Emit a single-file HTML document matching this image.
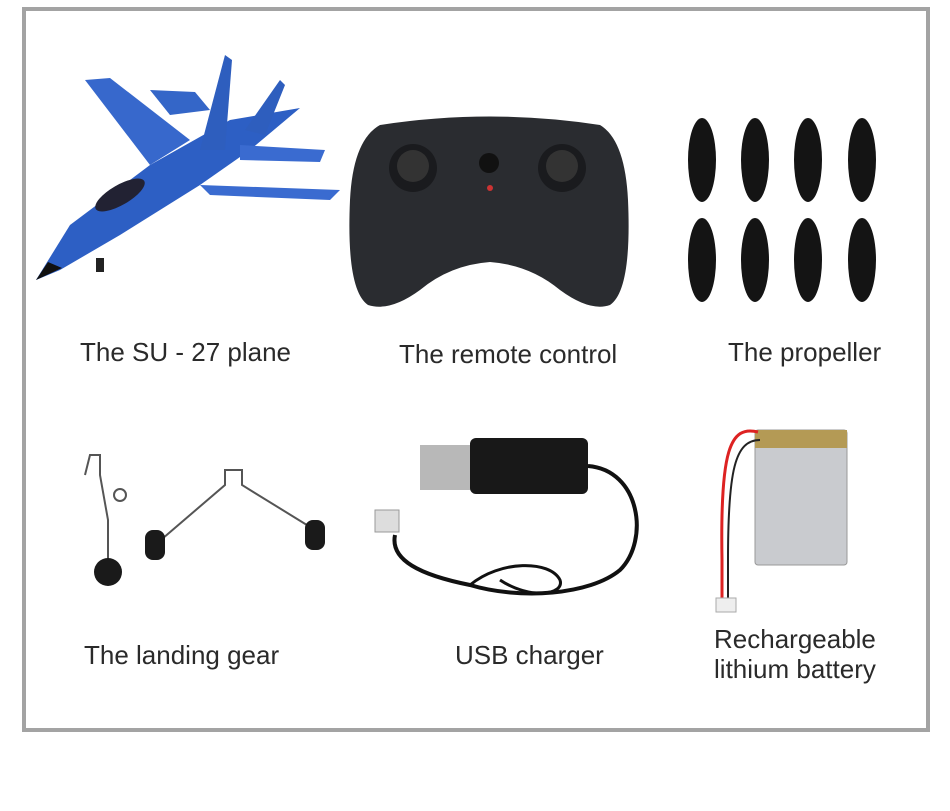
<!DOCTYPE html>
<html><head><meta charset="utf-8"><style>
html,body{margin:0;padding:0;background:#fff;}
body{width:950px;height:811px;position:relative;overflow:hidden;font-family:"Liberation Sans",Arial,sans-serif;}
.frame{position:absolute;left:22px;top:7px;width:900px;height:717px;border:4px solid #a3a3a3;}
.lbl{position:absolute;font-size:26px;color:#2a2a2a;white-space:nowrap;}
svg{position:absolute;left:0;top:0;}
</style></head><body>
<div class="frame"></div>
<svg width="950" height="811" viewBox="0 0 950 811">
 <g>
  <polygon points="36,280 70,225 150,165 230,120 300,108 250,150 200,185 120,235 60,270" fill="#2d5fc4"/>
  <polygon points="150,165 85,80 110,78 190,140" fill="#3768cc"/>
  <polygon points="200,150 225,55 232,60 225,150" fill="#2e5ebe"/>
  <polygon points="245,130 280,80 285,85 265,135" fill="#2e5ebe"/>
  <polygon points="200,185 340,190 330,200 210,195" fill="#3a6bd0"/>
  <polygon points="240,145 325,150 320,162 240,160" fill="#3a6bd0"/>
  <polygon points="150,90 195,92 210,110 170,115" fill="#3466c8"/>
  <polygon points="36,280 48,262 62,268" fill="#111"/>
  <ellipse cx="120" cy="195" rx="28" ry="10" fill="#223" transform="rotate(-30 120 195)"/>
  <rect x="96" y="258" width="8" height="14" fill="#222"/>
 </g>
 <path d="M380,125 Q490,108 600,125 Q625,140 628,200 Q632,290 610,305 Q590,312 560,290 Q530,265 490,262 Q450,265 420,290 Q390,312 368,305 Q346,290 350,200 Q353,140 380,125Z" fill="#2a2c30"/>
 <ellipse cx="413" cy="168" rx="24" ry="24" fill="#1a1b1e"/>
 <ellipse cx="562" cy="168" rx="24" ry="24" fill="#1a1b1e"/>
 <circle cx="413" cy="166" r="16" fill="#333"/>
 <circle cx="562" cy="166" r="16" fill="#333"/>
 <circle cx="489" cy="163" r="10" fill="#111"/>
 <circle cx="490" cy="188" r="3" fill="#c33"/>
 <g fill="#141414">
  <ellipse cx="702" cy="160" rx="14" ry="42"/><ellipse cx="702" cy="260" rx="14" ry="42"/>
  <ellipse cx="755" cy="160" rx="14" ry="42"/><ellipse cx="755" cy="260" rx="14" ry="42"/>
  <ellipse cx="808" cy="160" rx="14" ry="42"/><ellipse cx="808" cy="260" rx="14" ry="42"/>
  <ellipse cx="862" cy="160" rx="14" ry="42"/><ellipse cx="862" cy="260" rx="14" ry="42"/>
 </g>
 <g stroke="#555" stroke-width="2" fill="none">
  <path d="M85,475 L90,455 L100,455 L100,475 L108,520 L108,560"/>
  <circle cx="120" cy="495" r="6"/>
  <path d="M155,545 L225,485 L225,470 L242,470 L242,485 L315,530"/>
 </g>
 <circle cx="108" cy="572" r="14" fill="#1a1a1a"/>
 <rect x="145" y="530" width="20" height="30" rx="8" fill="#1a1a1a"/>
 <rect x="305" y="520" width="20" height="30" rx="8" fill="#1a1a1a"/>
 <rect x="420" y="445" width="55" height="45" fill="#b8b8b8"/>
 <rect x="470" y="438" width="118" height="56" rx="6" fill="#181818"/>
 <path d="M588,466 C640,470 650,540 620,570 C590,595 520,600 470,585 C420,575 390,560 395,535" stroke="#111" stroke-width="4" fill="none"/>
 <path d="M470,585 C500,560 550,560 560,580 C565,595 530,600 500,580" stroke="#111" stroke-width="3" fill="none"/>
 <rect x="375" y="510" width="24" height="22" fill="#ddd" stroke="#999"/>
 <rect x="755" y="430" width="92" height="135" rx="3" fill="#c9cbcf" stroke="#999"/>
 <rect x="755" y="430" width="92" height="18" fill="#b49a55"/>
 <path d="M758,432 C730,425 720,450 722,560 L722,600" stroke="#d22" stroke-width="3" fill="none"/>
 <path d="M760,440 C735,440 728,470 728,560 L728,600" stroke="#222" stroke-width="2" fill="none"/>
 <rect x="716" y="598" width="20" height="14" fill="#eee" stroke="#aaa"/>
</svg>
<div class="lbl" style="left:80px;top:337px;">The SU - 27 plane</div>
<div class="lbl" style="left:399px;top:339px;">The remote control</div>
<div class="lbl" style="left:728px;top:337px;">The propeller</div>
<div class="lbl" style="left:84px;top:640px;">The landing gear</div>
<div class="lbl" style="left:455px;top:640px;">USB charger</div>
<div class="lbl" style="left:714px;top:624px;text-align:center;line-height:30px;">Rechargeable<br>lithium battery</div>
</body></html>
